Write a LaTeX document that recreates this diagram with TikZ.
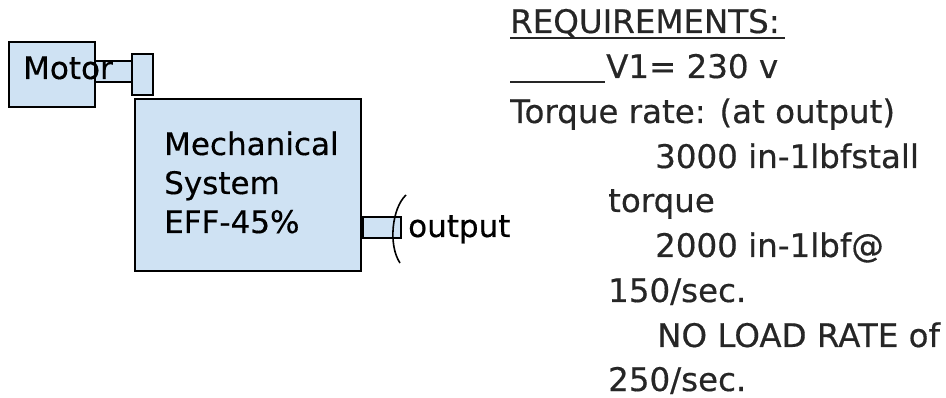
\documentclass[tikz,border=0pt]{standalone}
\usepackage{fontspec}
\setmainfont{DejaVu Sans}[FakeBold=0.4]
\definecolor{boxfill}{RGB}{207,226,243}
\definecolor{reqtext}{RGB}{38,38,38}
\begin{document}
\begin{tikzpicture}[x=1pt,y=-1pt,
  part/.style={draw=black,line width=2.2pt,fill=boxfill},
  lbl/.style={inner sep=0pt,anchor=base west,font=\fontsize{31}{37}\selectfont},
  req/.style={lbl,text=reqtext,font=\fontsize{32.5}{37}\selectfont}]
\useasboundingbox (0,0) rectangle (946,398);
% motor
\draw[part] (9,42) rectangle (95,107);
\draw[part] (95,61) rectangle (132,82);
\draw[part] (132,54) rectangle (153,95);
\node[lbl] (motor) at (23,79) {Motor};
% mechanical system
\draw[part] (135,99) rectangle (361,271);
\node[lbl] (mech1) at (164,155) {Mechanical};
\node[lbl] (mech2) at (164,194) {System};
\node[lbl] (mech3) at (164,233) {EFF-45\%};
% output shaft and load
\draw[part] (363,217) rectangle (401,238);
\draw[line width=1.6pt] (406,195) .. controls (392,208) and (388,245) .. (400,263);
\node[lbl] (out) at (408,237) {output};
% requirements
\node[req] (r0) at (510,33) {REQUIREMENTS:};
\coordinate (v0) at (510,38);
\coordinate (v1) at (785,38);
\draw[reqtext,line width=2pt] (v0) -- (v1);
\coordinate (u0) at (510,82);
\coordinate (u1) at (605,82);
\draw[reqtext,line width=2pt] (u0) -- (u1);
\node[req] (r1) at (606,78) {V1= 230 v};
\node[req] (r2) at (510,123) {Torque rate: (at output)};
\node[req] (r3) at (655,168) {3000 in-1lbfstall};
\node[req] (r4) at (608,212) {torque};
\node[req] (r5) at (655,257) {2000 in-1lbf@};
\node[req] (r6) at (608,302) {150/sec.};
\node[req] (r7) at (657,347) {NO LOAD RATE of};
\node[req] (r8) at (608,391) {250/sec.};
\end{tikzpicture}
\end{document}
